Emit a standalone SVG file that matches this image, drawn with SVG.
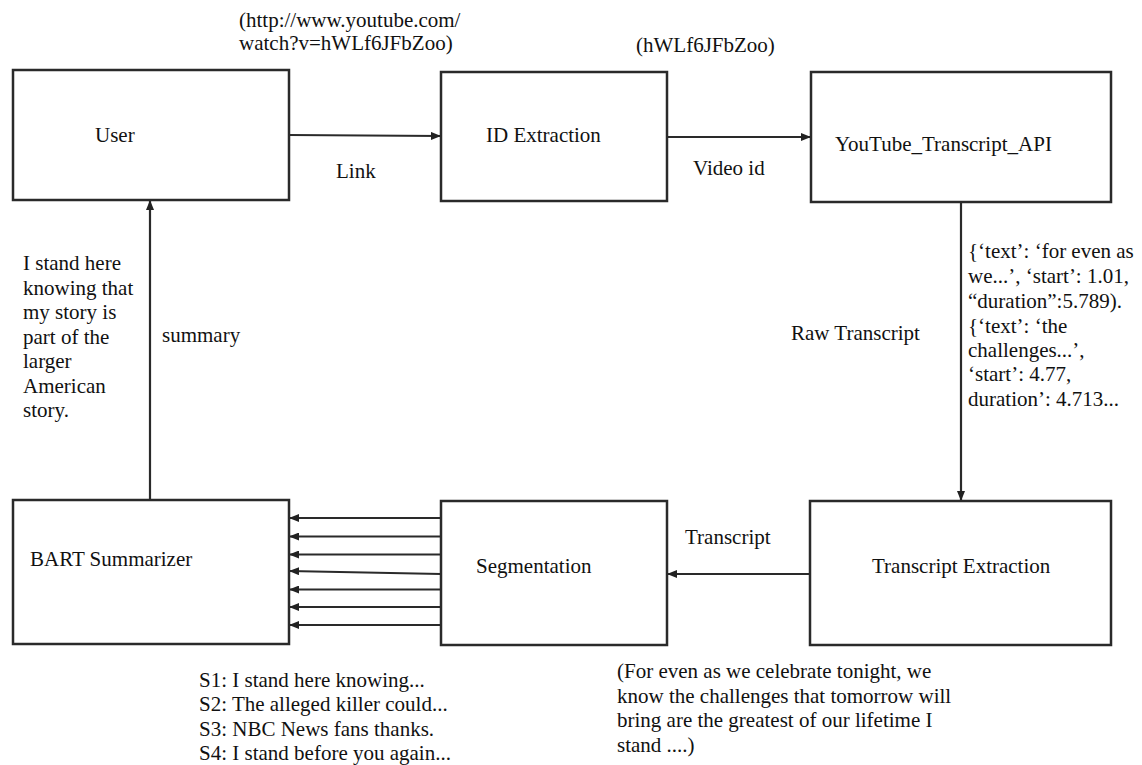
<svg xmlns="http://www.w3.org/2000/svg" width="1142" height="765" viewBox="0 0 1142 765">
<style>
.box{fill:#fff;stroke:#2a2a2a;stroke-width:2.5}
.ln{fill:none;stroke:#2a2a2a;stroke-width:2.2}
text{font-family:"Liberation Serif","Times New Roman",serif;font-size:21px;fill:#111}
</style>
<defs>
<marker id="ah" markerUnits="userSpaceOnUse" markerWidth="10" markerHeight="8" refX="10" refY="4" orient="auto">
<path d="M0,0 L10,4 L0,8 z" fill="#222"/>
</marker>
</defs>
<rect width="1142" height="765" fill="#fff"/>

<g id="connectors">
<line class="ln" x1="289" y1="135" x2="441" y2="136" marker-end="url(#ah)"/>
<line class="ln" x1="667" y1="137" x2="811" y2="137" marker-end="url(#ah)"/>
<line class="ln" x1="961" y1="202" x2="961" y2="501" marker-end="url(#ah)"/>
<line class="ln" x1="810" y1="574" x2="667" y2="574" marker-end="url(#ah)"/>
<line class="ln" x1="441" y1="518" x2="289" y2="518" marker-end="url(#ah)"/>
<line class="ln" x1="441" y1="536.5" x2="289" y2="536.5" marker-end="url(#ah)"/>
<line class="ln" x1="441" y1="554.5" x2="289" y2="554.5" marker-end="url(#ah)"/>
<line class="ln" x1="441" y1="574" x2="289" y2="571" marker-end="url(#ah)"/>
<line class="ln" x1="441" y1="589.5" x2="289" y2="589.5" marker-end="url(#ah)"/>
<line class="ln" x1="441" y1="607" x2="289" y2="607" marker-end="url(#ah)"/>
<line class="ln" x1="441" y1="625" x2="289" y2="625" marker-end="url(#ah)"/>
<line class="ln" x1="150" y1="500" x2="150" y2="200" marker-end="url(#ah)"/>
<text x="239" y="27">(http://www.youtube.com/</text>
<text x="239" y="50">watch?v=hWLf6JFbZoo)</text>
<text x="336" y="178">Link</text>
<text x="636" y="52">(hWLf6JFbZoo)</text>
<text x="693" y="175">Video id</text>
<text x="791" y="340">Raw Transcript</text>
<text x="968" y="258">{‘text’: ‘for even as</text>
<text x="968" y="283">we...’, ‘start’: 1.01,</text>
<text x="968" y="308">“duration”:5.789).</text>
<text x="968" y="332.5">{‘text’: ‘the</text>
<text x="968" y="357">challenges...’,</text>
<text x="968" y="381">‘start’: 4.77,</text>
<text x="968" y="406">duration’: 4.713...</text>
<text x="685" y="544">Transcript</text>
<text x="617" y="678">(For even as we celebrate tonight, we</text>
<text x="617" y="702.5">know the challenges that tomorrow will</text>
<text x="617" y="727">bring are the greatest of our lifetime I</text>
<text x="617" y="751.5">stand ....)</text>
<text x="199" y="687">S1: I stand here knowing...</text>
<text x="199" y="711">S2: The alleged killer could...</text>
<text x="199" y="736">S3: NBC News fans thanks.</text>
<text x="199" y="760">S4: I stand before you again...</text>
<text x="162" y="342">summary</text>
<text x="23" y="270">I stand here</text>
<text x="23" y="294.5">knowing that</text>
<text x="23" y="319">my story is</text>
<text x="23" y="343.5">part of the</text>
<text x="23" y="368">larger</text>
<text x="23" y="392.5">American</text>
<text x="23" y="417">story.</text>
</g>

<g id="user">
<rect class="box" x="13" y="70" width="276" height="130"/>
<text x="95" y="142">User</text>
</g>
<g id="id-extraction">
<rect class="box" x="441" y="72" width="226" height="129"/>
<text x="486" y="142">ID Extraction</text>
</g>
<g id="youtube-api">
<rect class="box" x="811" y="72" width="300" height="130"/>
<text x="835" y="150.5">YouTube_Transcript_API</text>
</g>
<g id="transcript-extraction">
<rect class="box" x="810" y="501" width="301" height="144"/>
<text x="872" y="573">Transcript Extraction</text>
</g>
<g id="segmentation">
<rect class="box" x="441" y="501" width="226" height="144"/>
<text x="476" y="573">Segmentation</text>
</g>
<g id="bart">
<rect class="box" x="13" y="500" width="276" height="144"/>
<text x="30" y="566">BART Summarizer</text>
</g>
</svg>
